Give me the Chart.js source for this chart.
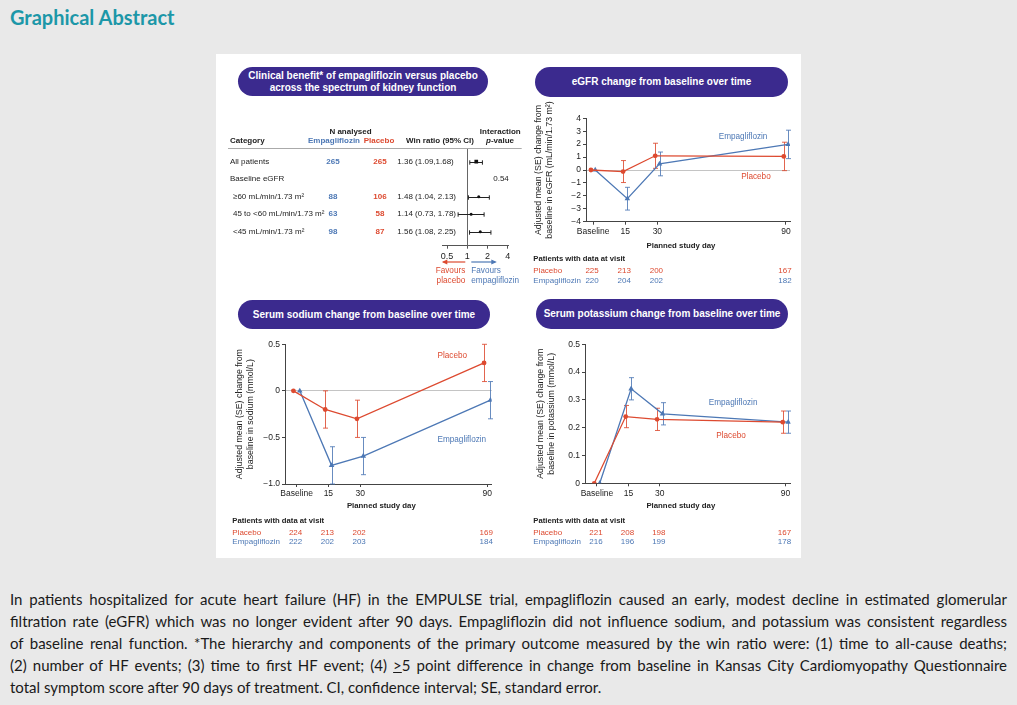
<!DOCTYPE html>
<html><head><meta charset="utf-8">
<script src="https://cdn.jsdelivr.net/npm/chart.js@4.4.1/dist/chart.umd.min.js"></script>
<style>
html,body{margin:0;padding:0;}
body{width:1017px;height:705px;background:#e9e9e9;position:relative;overflow:hidden;font-family:'Liberation Sans',Arial,sans-serif;}
#title{position:absolute;left:10px;top:5px;font:bold 20px Lato,sans-serif;color:#1c97a8;}
#panel{position:absolute;left:216px;top:54px;width:585px;height:504px;background:#fff;}
.pill{position:absolute;background:#3b2a8e;color:#fff;font-weight:bold;font-size:10px;text-align:center;border-radius:15px;display:flex;align-items:center;justify-content:center;line-height:11.5px;}
canvas{position:absolute;}
#para{position:absolute;left:10px;top:588px;width:997px;font:15px Lato,sans-serif;color:#1a1a1a;line-height:22px;}
.ln{text-align:justify;text-align-last:justify;white-space:nowrap;}
.ln.last{text-align-last:left;}
</style></head>
<body>
<div id="title">Graphical Abstract</div>
<div id="panel"></div>
<div class="pill" style="left:238px;top:67px;width:250px;height:29px;">Clinical benefit* of empagliflozin versus placebo<br>across the spectrum of kidney function</div>
<div class="pill" style="left:535px;top:67px;width:253px;height:30px;">eGFR change from baseline over time</div>
<div class="pill" style="left:238px;top:300px;width:252px;height:29px;">Serum sodium change from baseline over time</div>
<div class="pill" style="left:536px;top:299px;width:252px;height:30px;">Serum potassium change from baseline over time</div>
<canvas id="forest" width="303" height="170" style="left:222px;top:122px;"></canvas>
<canvas id="egfr" width="275" height="195" style="left:525px;top:100px;"></canvas>
<canvas id="sodium" width="280" height="225" style="left:225px;top:330px;"></canvas>
<canvas id="potassium" width="275" height="225" style="left:525px;top:330px;"></canvas>
<div id="para">
<div class="ln">In patients hospitalized for acute heart failure (HF) in the EMPULSE trial, empagliflozin caused an early, modest decline in estimated glomerular</div>
<div class="ln">filtration rate (eGFR) which was no longer evident after 90 days. Empagliflozin did not influence sodium, and potassium was consistent regardless</div>
<div class="ln">of baseline renal function. *The hierarchy and components of the primary outcome measured by the win ratio were: (1) time to all-cause deaths;</div>
<div class="ln">(2) number of HF events; (3) time to first HF event; (4) <u>&gt;</u>5 point difference in change from baseline in Kansas City Cardiomyopathy Questionnaire</div>
<div class="ln last">total symptom score after 90 days of treatment. CI, confidence interval; SE, standard error.</div>
</div>
<script>
// ---------- DATA ----------
const visits = ['Baseline', '15', '30', '90'];
const visitDays = [0, 15, 30, 90];

const egfrPlacebo = [0, -0.12, 1.1, 1.05];
const egfrPlaceboSE = [0, 0.85, 0.97, 1.1];
const egfrEmpa = [0, -2.22, 0.47, 1.98];
const egfrEmpaSE = [0, 0.88, 0.92, 1.1];
const egfrNPlacebo = [225, 213, 200, 167];
const egfrNEmpa = [220, 204, 202, 182];

const sodiumPlacebo = [0, -0.2, -0.3, 0.3];
const sodiumPlaceboSE = [0, 0.2, 0.2, 0.2];
const sodiumEmpa = [0, -0.8, -0.7, -0.1];
const sodiumEmpaSE = [0, 0.2, 0.2, 0.2];
const sodiumNPlacebo = [224, 213, 202, 169];
const sodiumNEmpa = [222, 202, 203, 184];

const potPlacebo = [0, 0.24, 0.23, 0.22];
const potPlaceboSE = [0, 0.04, 0.04, 0.04];
const potEmpa = [0, 0.34, 0.25, 0.22];
const potEmpaSE = [0, 0.04, 0.04, 0.04];
const potNPlacebo = [221, 208, 198, 167];
const potNEmpa = [216, 196, 199, 178];

const forestCategories = ['All patients', 'Baseline eGFR', '\u226560 mL/min/1.73 m\u00B2', '45 to <60 mL/min/1.73 m\u00B2', '<45 mL/min/1.73 m\u00B2'];
const forestIndent = [0, 0, 1, 1, 1];
const forestNEmpa = [265, null, 88, 63, 98];
const forestNPlacebo = [265, null, 106, 58, 87];
const forestWR = [1.36, null, 1.48, 1.14, 1.56];
const forestLo = [1.09, null, 1.04, 0.73, 1.08];
const forestHi = [1.68, null, 2.13, 1.78, 2.25];
const forestP = [null, '0.54', null, null, null];
const forestTicks = [0.5, 1, 2, 4];

// ---------- STYLE ----------
const RED = '#dd4a30';
const BLUE = '#4d78b5';
const AX = '#444';
const TXT = '#222';
const FF = "'Liberation Sans', Arial, sans-serif";
Chart.defaults.font.family = FF;
Chart.defaults.color = TXT;

function minus(s){ return String(s).replace('-', '\u2212'); }

// ---------- error bars (vertical) ----------
const errorBars = {
  id: 'errorBars',
  beforeDatasetsDraw(chart) {
    const {ctx, scales: {x, y}} = chart;
    chart.data.datasets.forEach(ds => {
      if (!ds.se) return;
      ctx.save();
      ctx.strokeStyle = ds.borderColor;
      ctx.globalAlpha = 0.85;
      ctx.lineWidth = 1;
      ds.data.forEach((p, i) => {
        const se = ds.se[i];
        if (!se) return;
        const px = Math.round(x.getPixelForValue(p.x)) + 0.5;
        const t = y.getPixelForValue(p.y + se), b = y.getPixelForValue(p.y - se);
        ctx.beginPath();
        ctx.moveTo(px, t); ctx.lineTo(px, b);
        ctx.moveTo(px - 2.5, t); ctx.lineTo(px + 2.5, t);
        ctx.moveTo(px - 2.5, b); ctx.lineTo(px + 2.5, b);
        ctx.stroke();
      });
      ctx.restore();
    });
  }
};

function timeChart(id, c) {
  const decor = {
    id: 'decor',
    afterDraw(chart) {
      const {ctx, chartArea: a, scales: {x, y}} = chart;
      ctx.save();
      ctx.fillStyle = TXT;
      ctx.font = '8.8px ' + FF;
      ctx.textAlign = 'center'; ctx.textBaseline = 'middle';
      const cy = (a.top + a.bottom) / 2;
      c.yTitle.forEach((t, i) => {
        ctx.save();
        ctx.translate(c.yTitleX[i], cy);
        ctx.rotate(-Math.PI / 2);
        ctx.fillText(t, 0, 0);
        ctx.restore();
      });
      ctx.font = 'bold 7.8px ' + FF;
      ctx.fillText('Planned study day', (a.left + a.right) / 2 - 7, c.xTitleY);
      ctx.font = '8.2px ' + FF;
      c.labels.forEach(l => {
        ctx.fillStyle = l.color;
        ctx.fillText(l.text, x.getPixelForValue(l.x), y.getPixelForValue(l.y));
      });
      ctx.textAlign = 'left';
      ctx.fillStyle = TXT;
      ctx.font = 'bold 7.7px ' + FF;
      ctx.fillText('Patients with data at visit', c.tableX, c.tableY[0]);
      ctx.font = '8px ' + FF;
      ctx.fillStyle = RED;
      ctx.fillText('Placebo', c.tableX, c.tableY[1]);
      ctx.fillStyle = BLUE;
      ctx.fillText('Empagliflozin', c.tableX, c.tableY[2]);
      ctx.textAlign = 'center';
      visitDays.forEach((d, i) => {
        const px = x.getPixelForValue(d) - 1;
        ctx.fillStyle = RED; ctx.fillText(String(c.nP[i]), px, c.tableY[1]);
        ctx.fillStyle = BLUE; ctx.fillText(String(c.nE[i]), px, c.tableY[2]);
      });
      ctx.restore();
    }
  };
  return new Chart(document.getElementById(id), {
    type: 'line',
    data: {
      datasets: [
        { label: 'Placebo', data: visitDays.map((d, i) => ({x: d - c.dodge, y: c.placebo[i]})), se: c.placeboSE,
          borderColor: RED, backgroundColor: RED, pointStyle: 'circle', pointRadius: 2.4, pointBorderWidth: 0, borderWidth: 1.3, tension: 0 },
        { label: 'Empagliflozin', data: visitDays.map((d, i) => ({x: d + c.dodge, y: c.empa[i]})), se: c.empaSE,
          borderColor: BLUE, backgroundColor: BLUE, pointStyle: 'triangle', pointRadius: 3.2, pointBorderWidth: 0, borderWidth: 1.3, tension: 0 }
      ]
    },
    options: {
      responsive: false, animation: false, events: [],
      layout: { padding: { left: 0, right: c.pr, top: c.pt, bottom: 0 } },
      plugins: { legend: { display: false }, tooltip: { enabled: false } },
      scales: {
        x: {
          type: 'linear', min: c.xMin, max: c.xMax,
          afterBuildTicks: s => { s.ticks = visitDays.map(v => ({value: v})); },
          afterFit: s => { s.height = c.xh; },
          ticks: { autoSkip: false, maxRotation: 0, padding: 2, font: {size: 8.5}, color: TXT,
                   callback: v => visits[visitDays.indexOf(v)] },
          grid: { drawOnChartArea: false, tickLength: 3, tickColor: AX },
          border: { color: AX, width: 1 }
        },
        y: {
          min: c.yMin, max: c.yMax,
          afterFit: s => { s.width = c.yw; },
          ticks: { stepSize: c.yStep, autoSkip: false, padding: 2, font: {size: 8.5}, color: TXT, callback: c.yFmt },
          grid: { color: g => (g.tick && g.tick.value === 0) ? '#c4c4c4' : 'rgba(0,0,0,0)', tickLength: 3, tickColor: AX },
          border: { color: AX, width: 1 }
        }
      }
    },
    plugins: [errorBars, decor]
  });
}

timeChart('egfr', {
  placebo: egfrPlacebo, placeboSE: egfrPlaceboSE, empa: egfrEmpa, empaSE: egfrEmpaSE,
  nP: egfrNPlacebo, nE: egfrNEmpa, dodge: 1,
  xMin: -3.3, xMax: 91.9, yMin: -4, yMax: 4, yStep: 1,
  yFmt: v => minus(v),
  pr: 10, pt: 18.3, xh: 73.3, yw: 61,
  yTitle: ['Adjusted mean (SE) change from', 'baseline in eGFR (mL/min/1.73 m\u00B2)'], yTitleX: [13.3, 25],
  xTitleY: 145.7,
  labels: [{text: 'Empagliflozin', x: 70, y: 2.6, color: BLUE}, {text: 'Placebo', x: 76, y: -0.55, color: RED}],
  tableX: 8.3, tableY: [159, 171, 181]
});

timeChart('sodium', {
  placebo: sodiumPlacebo, placeboSE: sodiumPlaceboSE, empa: sodiumEmpa, empaSE: sodiumEmpaSE,
  nP: sodiumNPlacebo, nE: sodiumNEmpa, dodge: 1.5,
  xMin: -5.47, xMax: 92.1, yMin: -1, yMax: 0.5, yStep: 0.5,
  yFmt: v => v === 0 ? '0' : minus(v.toFixed(1)),
  pr: 13.3, pt: 14.3, xh: 71, yw: 60,
  yTitle: ['Adjusted mean (SE) change from', 'baseline in sodium (mmol/L)'], yTitleX: [14.5, 25.5],
  xTitleY: 175.7,
  labels: [{text: 'Placebo', x: 73.5, y: 0.38, color: RED}, {text: 'Empagliflozin', x: 78, y: -0.53, color: BLUE}],
  tableX: 7.3, tableY: [191, 202.3, 211.7]
});

timeChart('potassium', {
  placebo: potPlacebo, placeboSE: potPlaceboSE, empa: potEmpa, empaSE: potEmpaSE,
  nP: potNPlacebo, nE: potNEmpa, dodge: 1.3,
  xMin: -5.73, xMax: 92.5, yMin: 0, yMax: 0.5, yStep: 0.1,
  yFmt: v => v === 0 ? '0' : v.toFixed(1),
  pr: 9.3, pt: 14.3, xh: 71.7, yw: 60,
  yTitle: ['Adjusted mean (SE) change from', 'baseline in potassium (mmol/L)'], yTitleX: [15.7, 26.7],
  xTitleY: 175.7,
  labels: [{text: 'Empagliflozin', x: 65, y: 0.29, color: BLUE}, {text: 'Placebo', x: 64, y: 0.171, color: RED}],
  tableX: 8.3, tableY: [191, 202.3, 211.7]
});

// ---------- FOREST ----------
const forestRows = forestCategories.map((c, i) => i);
const forestDecor = {
  id: 'forestDecor',
  beforeDatasetsDraw(chart) {
    const {ctx, chartArea: a, scales: {x, y}} = chart;
    ctx.save();
    const x1 = Math.round(x.getPixelForValue(1)) + 0.5;
    ctx.strokeStyle = '#666'; ctx.lineWidth = 1;
    ctx.beginPath(); ctx.moveTo(x1, a.top); ctx.lineTo(x1, a.bottom); ctx.stroke();
    ctx.strokeStyle = '#aaa';
    ctx.beginPath(); ctx.moveTo(6, 26.5); ctx.lineTo(299.7, 26.5); ctx.stroke();
    ctx.strokeStyle = '#222';
    forestWR.forEach((v, i) => {
      if (v == null) return;
      const py = Math.round(y.getPixelForValue(i)) + 0.5;
      const l = x.getPixelForValue(forestLo[i]), r = x.getPixelForValue(forestHi[i]);
      ctx.beginPath();
      ctx.moveTo(l, py); ctx.lineTo(r, py);
      ctx.moveTo(l, py - 2.2); ctx.lineTo(l, py + 2.2);
      ctx.moveTo(r, py - 2.2); ctx.lineTo(r, py + 2.2);
      ctx.stroke();
    });
    ctx.restore();
  },
  afterDraw(chart) {
    const {ctx, scales: {x, y}} = chart;
    ctx.save();
    ctx.textBaseline = 'middle';
    ctx.fillStyle = TXT;
    ctx.font = 'bold 8px ' + FF;
    ctx.textAlign = 'center';
    ctx.fillText('N analysed', 128.5, 9.7);
    ctx.fillText('Interaction', 278.3, 9.7);
    ctx.fillText('Win ratio (95% CI)', 218, 19);
    ctx.textAlign = 'left';
    ctx.fillText('Category', 8, 19);
    ctx.textAlign = 'center';
    ctx.fillStyle = BLUE; ctx.fillText('Empagliflozin', 112, 19);
    ctx.fillStyle = RED; ctx.fillText('Placebo', 157, 19);
    ctx.fillStyle = TXT;
    ctx.font = 'bold 8px ' + FF;
    const w1 = ctx.measureText('-value').width;
    ctx.font = 'italic bold 8px ' + FF;
    const w0 = ctx.measureText('p').width;
    const sx = 278 - (w0 + w1) / 2;
    ctx.textAlign = 'left';
    ctx.fillText('p', sx, 19);
    ctx.font = 'bold 8px ' + FF;
    ctx.fillText('-value', sx + w0, 19);
    forestCategories.forEach((cat, i) => {
      const py = y.getPixelForValue(i);
      ctx.textAlign = 'left';
      ctx.fillStyle = TXT;
      ctx.font = '8px ' + FF;
      ctx.fillText(cat, 8 + forestIndent[i] * 3, py);
      if (forestWR[i] != null) {
        const sep = i === 0 ? ',' : ', ';
        ctx.fillText(forestWR[i].toFixed(2) + ' (' + forestLo[i].toFixed(2) + sep + forestHi[i].toFixed(2) + ')', 175.3, py);
      }
      ctx.textAlign = 'center';
      if (forestP[i]) ctx.fillText(forestP[i], 279, py);
      ctx.font = 'bold 8px ' + FF;
      if (forestNEmpa[i] != null) { ctx.fillStyle = BLUE; ctx.fillText(String(forestNEmpa[i]), 111, py); }
      if (forestNPlacebo[i] != null) { ctx.fillStyle = RED; ctx.fillText(String(forestNPlacebo[i]), 158, py); }
    });
    const x1 = x.getPixelForValue(1);
    const ay = 140;
    function arrow(x0, xe, col) {
      ctx.strokeStyle = col; ctx.fillStyle = col; ctx.lineWidth = 1.2;
      ctx.beginPath(); ctx.moveTo(x0, ay); ctx.lineTo(xe, ay); ctx.stroke();
      const d = xe > x0 ? 1 : -1;
      ctx.beginPath(); ctx.moveTo(xe + d * 1.5, ay); ctx.lineTo(xe - d * 4, ay - 2.5); ctx.lineTo(xe - d * 4, ay + 2.5); ctx.closePath(); ctx.fill();
    }
    arrow(x1 - 2, x1 - 24, RED);
    arrow(x1 + 4, x1 + 28, BLUE);
    ctx.font = '8.2px ' + FF;
    ctx.textAlign = 'right'; ctx.fillStyle = RED;
    ctx.fillText('Favours', x1 - 2, 149); ctx.fillText('placebo', x1 - 2, 159);
    ctx.textAlign = 'left'; ctx.fillStyle = BLUE;
    ctx.fillText('Favours', x1 + 4, 149); ctx.fillText('empagliflozin', x1 + 4, 159);
    ctx.restore();
  }
};

new Chart(document.getElementById('forest'), {
  type: 'scatter',
  data: {
    datasets: [{
      data: forestRows.filter(i => forestWR[i] != null).map(i => ({x: forestWR[i], y: i})),
      backgroundColor: '#111', borderColor: '#111',
      pointStyle: forestRows.filter(i => forestWR[i] != null).map(i => i === 0 ? 'rect' : 'circle'),
      pointRadius: forestRows.filter(i => forestWR[i] != null).map(i => i === 0 ? 2.6 : 1.5),
      pointBorderWidth: 0
    }]
  },
  options: {
    responsive: false, animation: false, events: [],
    layout: { padding: { left: 0, right: 16.3, top: 26, bottom: 0 } },
    plugins: { legend: { display: false }, tooltip: { enabled: false } },
    scales: {
      x: {
        type: 'logarithmic', min: 0.43, max: 4.14,
        afterBuildTicks: s => { s.ticks = forestTicks.map(v => ({value: v})); },
        afterFit: s => { s.height = 46.3; },
        ticks: { autoSkip: false, maxRotation: 0, padding: 2, font: {size: 9}, color: TXT, callback: v => String(v) },
        grid: { drawOnChartArea: false, tickLength: 3, tickColor: '#555' },
        border: { color: '#555', width: 1 }
      },
      y: {
        type: 'linear', reverse: true, min: -0.78, max: 4.8,
        afterFit: s => { s.width = 220.7; },
        ticks: { display: false },
        grid: { display: false },
        border: { display: false }
      }
    }
  },
  plugins: [forestDecor]
});
</script>
</body></html>
